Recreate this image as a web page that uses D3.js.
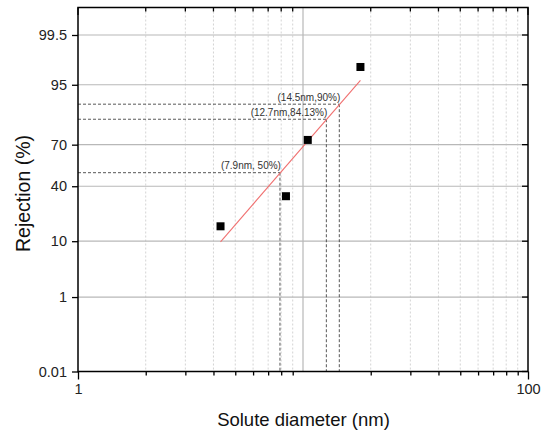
<!DOCTYPE html>
<html>
<head>
<meta charset="utf-8">
<script src="https://cdn.jsdelivr.net/npm/d3@7/dist/d3.min.js"></script>
<style>
  html, body { margin: 0; padding: 0; background: #fff; }
  svg { display: block; font-family: "Liberation Sans", Arial, sans-serif; }
</style>
</head>
<body>
<svg id="chart" width="546" height="434"></svg>
<script>
// ---- data ----
const diameters = [4.3, 8.4, 10.5, 18.0];          // nm
const rejections = [15.8, 33.0, 73.0, 97.6];       // %
const fitDiameters = [4.3, 18.0];
const fitRejections = [9.8, 95.8];
const annotDiameters = [7.9, 12.7, 14.5];
const annotRejections = [50, 84.13, 90];
const annotLabels = ["(7.9nm, 50%)", "(12.7nm,84.13%)", "(14.5nm,90%)"];
const xTickValues = [1, 10, 100];
const yTickValues = [0.01, 1, 10, 40, 70, 95, 99.5];
const yTickLabels = ["0.01", "1", "10", "40", "70", "95", "99.5"];

// ---- probit helper (inverse normal CDF, Acklam) ----
function probit(p) {
  const a = [-3.969683028665376e+01, 2.209460984245205e+02, -2.759285104469687e+02, 1.383577518672690e+02, -3.066479806614716e+01, 2.506628277459239e+00];
  const b = [-5.447609879822406e+01, 1.615858368580409e+02, -1.556989798598866e+02, 6.680131188771972e+01, -1.328068155288572e+01];
  const c = [-7.784894002430293e-03, -3.223964580411365e-01, -2.400758277161838e+00, -2.549732539343734e+00, 4.374664141464968e+00, 2.938163982698783e+00];
  const d = [7.784695709041462e-03, 3.224671290700398e-01, 2.445134137142996e+00, 3.754408661907416e+00];
  const pl = 0.02425, ph = 1 - pl;
  let q, r;
  if (p < pl) {
    q = Math.sqrt(-2 * Math.log(p));
    return (((((c[0]*q+c[1])*q+c[2])*q+c[3])*q+c[4])*q+c[5]) / ((((d[0]*q+d[1])*q+d[2])*q+d[3])*q+1);
  } else if (p <= ph) {
    q = p - 0.5; r = q*q;
    return (((((a[0]*r+a[1])*r+a[2])*r+a[3])*r+a[4])*r+a[5])*q / (((((b[0]*r+b[1])*r+b[2])*r+b[3])*r+b[4])*r+1);
  } else {
    q = Math.sqrt(-2 * Math.log(1 - p));
    return -(((((c[0]*q+c[1])*q+c[2])*q+c[3])*q+c[4])*q+c[5]) / ((((d[0]*q+d[1])*q+d[2])*q+d[3])*q+1);
  }
}

// ---- layout ----
const L = 78, R = 528, T = 7.5, B = 371.5;
const svg = d3.select("#chart");

const x = d3.scaleLog().domain([1, 100]).range([L, R]);
const z = d3.scaleLinear().domain([probit(0.0001), probit(0.999)]).range([B, T]);
const y = v => z(probit(v / 100));

const minorX = [];
[1, 10].forEach(dec => { for (let k = 2; k <= 9; k++) minorX.push(dec * k); });

// minor vertical gridlines
svg.append("g").selectAll("line").data(minorX).join("line")
  .attr("x1", d => x(d)).attr("x2", d => x(d))
  .attr("y1", T).attr("y2", B)
  .attr("stroke", "#d4d4d4").attr("stroke-width", 1)
  .attr("stroke-dasharray", "2,2");

// major vertical gridline(s)
svg.append("g").selectAll("line").data([10]).join("line")
  .attr("x1", d => x(d)).attr("x2", d => x(d))
  .attr("y1", T).attr("y2", B)
  .attr("stroke", "#b8b8b8").attr("stroke-width", 1.2);

// horizontal gridlines
svg.append("g").selectAll("line").data(yTickValues.filter(v => v > 0.01)).join("line")
  .attr("x1", L).attr("x2", R)
  .attr("y1", d => y(d)).attr("y2", d => y(d))
  .attr("stroke", "#b8b8b8").attr("stroke-width", 1.2);

// annotation dashed lines
const annot = annotDiameters.map((d, i) => ({ d, r: annotRejections[i], label: annotLabels[i] }));
const ag = svg.append("g");
ag.selectAll("line.h").data(annot).join("line").attr("class", "h")
  .attr("x1", L).attr("x2", d => x(d.d))
  .attr("y1", d => y(d.r)).attr("y2", d => y(d.r))
  .attr("stroke", "#444").attr("stroke-width", 0.9).attr("stroke-dasharray", "3,2");
ag.selectAll("line.v").data(annot).join("line").attr("class", "v")
  .attr("x1", d => x(d.d)).attr("x2", d => x(d.d))
  .attr("y1", d => y(d.r)).attr("y2", B)
  .attr("stroke", "#444").attr("stroke-width", 0.9).attr("stroke-dasharray", "3,2");
ag.selectAll("text").data(annot).join("text")
  .attr("x", d => x(d.d) + 1).attr("y", d => y(d.r) - 3.5)
  .attr("text-anchor", "end").attr("font-size", 10).attr("fill", "#333")
  .text(d => d.label);

// fit line
const fit = fitDiameters.map((d, i) => [d, fitRejections[i]]);
svg.append("path").datum(fit)
  .attr("d", d3.line().x(d => x(d[0])).y(d => y(d[1])))
  .attr("stroke", "#f07070").attr("stroke-width", 1.1).attr("fill", "none");

// data squares
const pts = diameters.map((d, i) => [d, rejections[i]]);
svg.append("g").selectAll("rect").data(pts).join("rect")
  .attr("x", d => x(d[0]) - 4).attr("y", d => y(d[1]) - 4)
  .attr("width", 8).attr("height", 8).attr("fill", "#000");

// axes
const allX = [1, ...minorX, 100].sort((a, b) => a - b);
const isMajor = v => xTickValues.includes(v);

// bottom axis
const bottom = d3.axisBottom(x).tickValues(allX)
  .tickFormat(v => isMajor(v) ? String(v) : "").tickSizeOuter(0).tickPadding(6);
const gb = svg.append("g").attr("transform", `translate(0,${B})`).call(bottom);
gb.selectAll(".tick line").attr("y2", d => isMajor(d) ? 8 : 4).attr("stroke-width", 1.3);
gb.selectAll(".tick text").attr("font-size", 14.5).attr("fill", "#222").attr("font-family", "Liberation Sans, Arial, sans-serif");
gb.select(".domain").remove();

// top axis (inward ticks)
const gt = svg.append("g").attr("transform", `translate(0,${T})`);
gt.selectAll("line").data(allX).join("line")
  .attr("x1", d => x(d)).attr("x2", d => x(d))
  .attr("y1", 0).attr("y2", d => isMajor(d) ? 7.5 : 4)
  .attr("stroke", "#000").attr("stroke-width", 1.3);

// left axis
const left = d3.axisLeft(z).tickValues(yTickValues.map(v => probit(v / 100)))
  .tickFormat((v, i) => yTickLabels[i]).tickSize(6).tickSizeOuter(0).tickPadding(5);
const gl = svg.append("g").attr("transform", `translate(${L},0)`).call(left);
gl.selectAll(".tick line").attr("stroke-width", 1.3);
gl.selectAll(".tick text").attr("font-size", 14.5).attr("fill", "#222").attr("font-family", "Liberation Sans, Arial, sans-serif");
gl.select(".domain").remove();

// right axis inward ticks
svg.append("g").selectAll("line").data(yTickValues).join("line")
  .attr("x1", R - 6).attr("x2", R)
  .attr("y1", d => y(d)).attr("y2", d => y(d))
  .attr("stroke", "#000").attr("stroke-width", 1.3);

// frame
svg.append("rect").attr("x", L).attr("y", T).attr("width", R - L).attr("height", B - T)
  .attr("fill", "none").attr("stroke", "#000").attr("stroke-width", 1.5);

// axis titles
svg.append("text").attr("x", (L + R) / 2 + 0.5).attr("y", 426)
  .attr("text-anchor", "middle").attr("font-size", 18.5).attr("fill", "#111")
  .text("Solute diameter (nm)");
svg.append("text").attr("transform", `translate(30,${193.5}) rotate(-90)`)
  .attr("text-anchor", "middle").attr("font-size", 19.5).attr("fill", "#111")
  .text("Rejection (%)");
</script>
</body>
</html>
